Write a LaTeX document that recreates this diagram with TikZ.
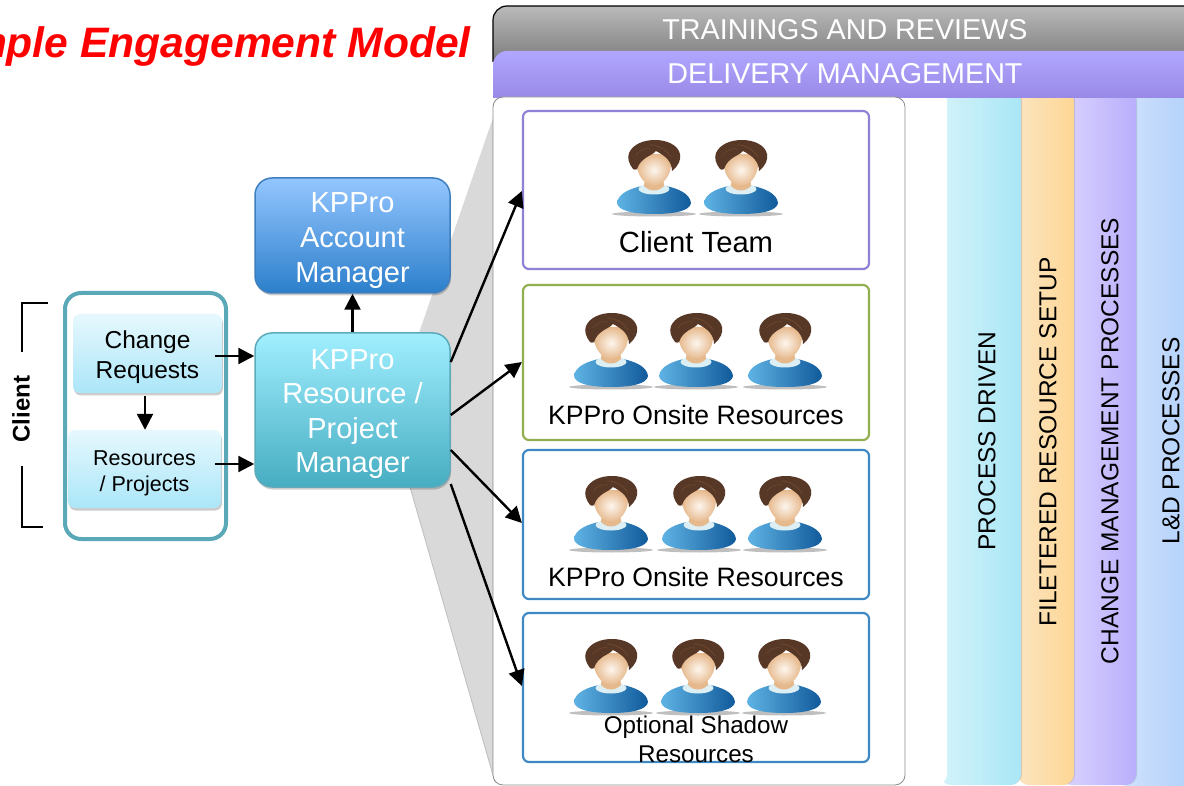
\documentclass[tikz,border=0pt]{standalone}
\usepackage{fontspec}
\setmainfont{Liberation Sans}
\usetikzlibrary{arrows.meta,shadows,shapes.geometric}
\definecolor{lightA}{HTML}{E6F8FE}\definecolor{lightB}{HTML}{ABE6F8}
\definecolor{framecol}{HTML}{5BA9B8}
\definecolor{blueA}{HTML}{CFE0FC}\definecolor{blueB}{HTML}{A6CBFA}
\definecolor{purpA}{HTML}{DBD5FD}\definecolor{purpB}{HTML}{B9AEFC}
\definecolor{orA}{HTML}{FCE4C0}\definecolor{orB}{HTML}{FDD694}
\definecolor{cyA}{HTML}{D4F3FA}\definecolor{cyB}{HTML}{A9E6F6}
\definecolor{grayA}{HTML}{BABABA}\definecolor{grayB}{HTML}{7C7C7C}
\definecolor{bandA}{HTML}{B1A7FF}\definecolor{bandB}{HTML}{9889E6}
\definecolor{boxP}{HTML}{8F82D6}\definecolor{boxG}{HTML}{93AE4F}\definecolor{boxB}{HTML}{3F88C3}
\definecolor{amA}{HTML}{94C6FF}\definecolor{amB}{HTML}{2C7FCB}\definecolor{amD}{HTML}{3F7FBE}
\definecolor{rpA}{HTML}{A0EFFF}\definecolor{rpB}{HTML}{47ADC1}\definecolor{rpD}{HTML}{5DAABB}
\definecolor{shirtA}{HTML}{5FB3E4}\definecolor{shirtB}{HTML}{115A9B}\definecolor{collar}{HTML}{DCEFF5}
\definecolor{skin}{HTML}{E6B98D}\definecolor{skinL}{HTML}{FDF6EE}\definecolor{hairA}{HTML}{6A4630}\definecolor{hairB}{HTML}{573725}
\tikzset{
  px/.style={font=\fontsize{#1}{#1}\selectfont},
  softshadow/.style={drop shadow={shadow xshift=1pt,shadow yshift=-2.5pt,opacity=.2,fill=black}},
  colshadow/.style={drop shadow={shadow xshift=1pt,shadow yshift=0pt,opacity=.12,fill=black}},
  clientbox/.style={rectangle,rounded corners=7pt,inner sep=0pt,align=center,top color=lightA,bottom color=lightB,softshadow,text=black},
  mgrbox/.style={rectangle,rounded corners=17pt,inner sep=0pt,align=center,text=white,minimum width=195pt,line width=1.5pt,softshadow,px=29},
  teambox/.style={rectangle,rounded corners=6pt,draw=#1,line width=2.2pt,fill=white,minimum width=346pt,inner sep=0pt},
  flow/.style={line width=2.4pt,-{Triangle[length=16pt,width=16pt]},black},
  bandtext/.style={text=white,px=28.7},
  coltext/.style={rotate=90,text=black,px=24.5},
  person/.pic={
    \fill[black,opacity=.25] (0,74) ellipse (42 and 2.5);
    \shade[left color=shirtA,right color=shirtB]
      (-37,63) .. controls (-36,53) and (-22,48) .. (-12,46) -- (12,46)
      .. controls (22,48) and (36,53) .. (37,63) .. controls (36,71) and (20,74) .. (0,74)
      .. controls (-20,74) and (-36,71) .. (-37,63) -- cycle;
    \fill[collar] (0,49) ellipse (15.5 and 5.5);
    \fill[skin] (-9,36) -- (9,36) -- (10,46) .. controls (4,52) and (-4,52) .. (-10,46) -- cycle;
    \shade[inner color=skinL,outer color=skin]
      (-17,14) -- (17,14) -- (17,24) .. controls (17,36) and (9,45) .. (0,46) .. controls (-9,45) and (-17,36) .. (-17,24) -- cycle;
    \fill[hairB]
      (-21,29) .. controls (-25,24) and (-27,18) .. (-25,13) .. controls (-21,4) and (-10,0) .. (1,0)
      .. controls (13,0) and (24,5) .. (26,14) .. controls (27,20) and (25,25) .. (18,31)
      .. controls (18,22) and (12,16) .. (2,11) .. controls (-2,16) and (-13,17) .. (-17,29) .. controls (-18,30) and (-20,30) .. (-21,29) -- cycle;
    \draw[hairA,line width=1pt] (-4,5) .. controls (4,5) and (12,9) .. (17,17);
    \draw[hairA,line width=.8pt] (-18,15) .. controls (-13,9) and (-8,8) .. (-3,9);
  }
}
\begin{document}
\begin{tikzpicture}[x=1pt,y=-1pt]
\useasboundingbox (0,0) rectangle (1184,786);
\clip (0,0) rectangle (1184,786);
\fill[white] (0,0) rectangle (1184,786);

% title
\node[anchor=base east,inner sep=0pt,text=red,font=\fontsize{42.6}{42.6}\selectfont\bfseries\itshape] (title) at (471,58) {mple Engagement Model};

% fan behind the panel
\fill[black!15] (494,115) -- (419,333) -- (405,480) -- (410,487) -- (495,782) -- cycle;
\draw[black!25,line width=.8pt] (410,487) -- (495,782);

% columns, back to front
\path[left color=blueA,right color=blueB] (1125,90) rectangle (1220,786);
\path[rounded corners=11pt,left color=purpA,right color=purpB,colshadow] (1060,90) rectangle (1136,785);
\path[rounded corners=11pt,left color=orA,right color=orB,colshadow] (1018,90) rectangle (1074,785);
\path[rounded corners=11pt,left color=cyA,right color=cyB,colshadow] (940,90) rectangle (1021,785);
\fill[white,rounded corners=11pt] (890,90) rectangle (947,785);

% top bands
\path[top color=grayA,bottom color=grayB] (493,62) [rounded corners=14pt] -- (493,6) [sharp corners] -- (1200,6) -- (1200,62) -- cycle;
\draw[black,line width=1.2pt,rounded corners=14pt] (493,62) -- (493,6) -- (1200,6);
\path[top color=bandA,bottom color=bandB] (493,98) [rounded corners=14pt] -- (493,51) [sharp corners] -- (1200,51) -- (1200,98) -- cycle;
\node[bandtext] (trainings) at (845,30) {TRAININGS AND REVIEWS};
\node[bandtext] (delivery) at (845,74) {DELIVERY MANAGEMENT};

% main white panel
\draw[black!45,line width=.8pt,fill=white,rounded corners=10pt] (493,97) rectangle (905,785);

% column labels
\node[coltext] (c1) at (987,441) {PROCESS DRIVEN};
\node[coltext] (c2) at (1048,442) {FILETERED RESOURCE SETUP};
\node[coltext] (c3) at (1110,441) {CHANGE MANAGEMENT PROCESSES};
\node[coltext] (c4) at (1171,441) {L\&D PROCESSES};

% team boxes
\node[teambox=boxP,minimum height=158pt] (team) at (696,190) {};
\node[teambox=boxG,minimum height=155pt] (onsiteA) at (696,362.5) {};
\node[teambox=boxB,minimum height=149pt] (onsiteB) at (696,524.5) {};
\node[teambox=boxB,minimum height=149pt] (shadow) at (696,687.5) {};

\pic at (654,140) {person};
\pic at (741,140) {person};
\foreach \cx in {611,696,785} \pic at (\cx,313) {person};
\foreach \cx in {611,699,785} \pic at (\cx,476) {person};
\foreach \cx in {611,698,784} \pic at (\cx,639) {person};

\node[px=29.2,text=black] (teamlabel) at (696,242) {Client Team};
\node[px=26.6,text=black] (onsiteAlabel) at (696,415) {KPPro Onsite Resources};
\node[px=26.6,text=black] (onsiteBlabel) at (696,577) {KPPro Onsite Resources};
\node[px=24.2,text=black] (shadowA) at (696,727) {Optional Shadow};
\node[px=24.2,text=black] (shadowB) at (696,754) {Resources};

% client group
\draw[framecol,line width=4pt,fill=white,rounded corners=16pt] (65,293) rectangle (226,539);
\node[clientbox,minimum width=149pt,minimum height=79pt,px=24.5] (change) at (147.5,353.5) {\rule{0pt}{25pt}Change\\[6pt]Requests};
\node[clientbox,minimum width=153pt,minimum height=78pt,px=21.5] (res) at (144.5,469) {\rule{0pt}{22.5pt}Resources\\[4.5pt]/ Projects};

% client bracket
\coordinate (b1) at (48,303); \coordinate (b2) at (22,303); \coordinate (b3) at (22,352);
\coordinate (b4) at (22,466); \coordinate (b5) at (22,527); \coordinate (b6) at (43,527);
\draw[black,line width=1.2pt] (b1) -- (b2) -- (b3) (b4) -- (b5) -- (b6);
\node[rotate=90,text=black,font=\fontsize{24}{24}\selectfont\bfseries] (client) at (21,409) {Client};

% managers
\node[mgrbox,minimum height=115pt,draw=amD,top color=amA,bottom color=amB] (am) at (352.5,235.5) {\rule{0pt}{31pt}KPPro\\[6pt]Account\\[6pt]Manager};
\node[mgrbox,minimum height=154pt,draw=rpD,top color=rpA,bottom color=rpB] (rpm) at (352.5,410) {\rule{0pt}{28pt}KPPro\\[5.4pt]Resource /\\[5.4pt]Project\\[5.4pt]Manager};

% connectors
\draw[flow] (rpm.north) -- (am.south);
\draw[flow] (145,396) -- (res.north -| 145,0);
\draw[flow] (215,356) -- (rpm.west |- 0,356);
\draw[flow] (215,464) -- (rpm.west |- 0,464);
\draw[flow] (rpm.east |- 0,362) -- (team.west |- 0,191);
\draw[flow] (rpm.east |- 0,415) -- (onsiteA.west |- 0,362);
\draw[flow] (rpm.east |- 0,450) -- (onsiteB.west |- 0,523);
\draw[flow] (rpm.east |- 0,484) -- (shadow.west |- 0,686);
\end{tikzpicture}
\end{document}
